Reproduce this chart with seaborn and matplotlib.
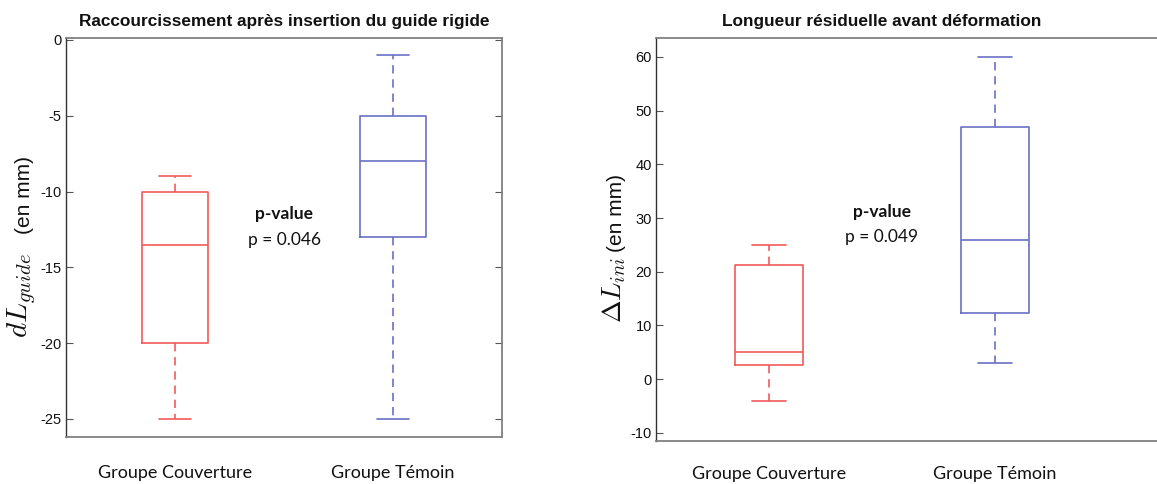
import pandas as pd
import matplotlib.pyplot as plt
import seaborn as sns

sns.set_style('white')
plt.rcParams['font.family'] = ['Liberation Sans', 'DejaVu Sans']
plt.rcParams['mathtext.fontset'] = 'cm'
plt.rcParams['axes.unicode_minus'] = False

groups = ['Groupe Couverture', 'Groupe Témoin']

# five-number summaries: min, Q1, median, Q3, max
guide_couv = [-25, -20, -13.5, -10, -9]
guide_temoin = [-25, -13, -8, -5, -1]
ini_couv = [-4.1, 2.7, 5, 21.2, 25]
ini_temoin = [3, 12.4, 26, 47, 60]

pvals = ['p = 0.046', 'p = 0.049']
titles = ['Raccourcissement après insertion du guide rigide',
          'Longueur résiduelle avant déformation']

red = '#f25a5a'
blue = '#6a71c4'

df_guide = pd.DataFrame({'group': [groups[0]] * 5 + [groups[1]] * 5,
                         'value': guide_couv + guide_temoin})
df_ini = pd.DataFrame({'group': [groups[0]] * 5 + [groups[1]] * 5,
                       'value': ini_couv + ini_temoin})

W, H = 1157, 484
fig = plt.figure(figsize=(W / 100, H / 100), dpi=100)

# axes positions in pixels; the right panel runs off the right edge
ax1 = fig.add_axes([66 / W, (H - 437) / H, 436 / W, 399 / H])
ax2 = fig.add_axes([656 / W, (H - 441) / H, (W - 656) / W, 403 / H])


def draw(ax, df, xlim, ylim, yticks, title, title_x, pval, p_y, xpad):
    sns.boxplot(data=df, x='group', y='value', hue='group',
                palette=[red, blue], fill=False, width=0.3,
                whis=(0, 100), linewidth=1.2, legend=False,
                whiskerprops=dict(linestyle=(0, (5, 3.5))), ax=ax)
    ax.set_xlim(*xlim)
    ax.set_ylim(*ylim)
    ax.set_yticks(yticks)
    ax.set_xlabel('')
    ax.set_ylabel('')
    ax.tick_params(axis='y', direction='in', length=5, width=0.8,
                   left=True, right=True, labelsize=10.5, pad=3,
                   color='#555555', labelcolor='#111111')
    ax.tick_params(axis='x', length=0, pad=xpad, labelsize=13,
                   labelcolor='#111111')
    for lbl in ax.get_xticklabels():
        lbl.set_fontfamily(['Lato', 'DejaVu Sans'])
    for s in ax.spines.values():
        s.set_color('#808080')
        s.set_linewidth(1.3)
    ax.spines['left'].set_color('#333333')
    ax.spines['left'].set_linewidth(1.0)
    ax.set_title(title, x=title_x, fontsize=12.4, fontweight='bold',
                 family=['Liberation Sans Narrow', 'Liberation Sans'],
                 pad=9, color='#111111')
    ax.text(0.5, p_y[0], 'p-value', ha='center', va='center',
            fontsize=12.5, fontweight='bold', family=['Lato', 'DejaVu Sans'],
            color='#111111')
    ax.text(0.5, p_y[1], pval, ha='center', va='center',
            fontsize=12.5, family=['Lato', 'DejaVu Sans'], color='#111111')


draw(ax1, df_guide, (-0.5, 1.5), (-26.2, 0.13), [-25, -20, -15, -10, -5, 0],
     titles[0], 0.5, pvals[0], (-11.5, -13.2), 20)
draw(ax2, df_ini, (-0.5, 1.717), (-11.5, 63.5),
     [-10, 0, 10, 20, 30, 40, 50, 60],
     titles[1], 0.45, pvals[1], (31.2, 26.4), 18)
ax2.spines['right'].set_visible(False)
ax2.tick_params(axis='y', right=False)

# y labels: large math symbol followed by the unit
fig.text(22 / W, 1 - 338 / H, r'$dL_{guide}$', rotation=90,
         ha='center', va='bottom', fontsize=21, color='#111111')
fig.text(24 / W, 1 - 234 / H, '(en mm)', rotation=90,
         ha='center', va='bottom', fontsize=15, color='#111111')
fig.text(614 / W, 1 - 323 / H, r'$\Delta L_{ini}$', rotation=90,
         ha='center', va='bottom', fontsize=19.5, color='#111111')
fig.text(616 / W, 1 - 252 / H, '(en mm)', rotation=90,
         ha='center', va='bottom', fontsize=15, color='#111111')

fig.savefig('out.png', dpi=100)
